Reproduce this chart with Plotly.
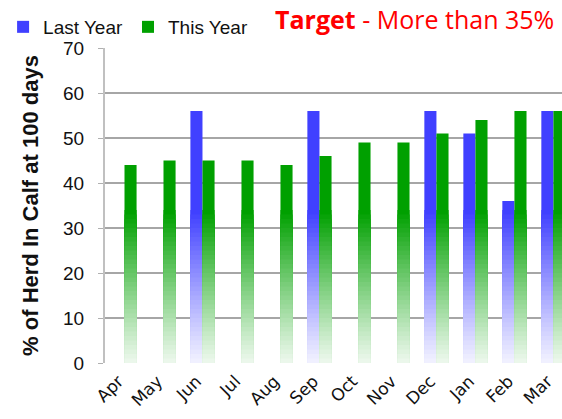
import plotly.graph_objects as go

months = ["Apr", "May", "Jun", "Jul", "Aug", "Sep", "Oct", "Nov", "Dec", "Jan", "Feb", "Mar"]
last_year = [None, None, 56, None, None, 56, None, None, 56, 51, 36, 56]
this_year = [44, 45, 45, 45, 44, 46, 49, 49, 51, 54, 56, 56]

series = [
    ("Last Year", last_year, (64, 64, 255), -0.31),
    ("This Year", this_year, (0, 160, 0), 0.0),
]

BAR_W = 0.31
GRAD_TOP = 34.0
N_SEG = 34
SEG_H = GRAD_TOP / N_SEG


def mix(rgb, f):
    r, g, b = rgb
    return "rgb(%d,%d,%d)" % (round(255 + (r - 255) * f), round(255 + (g - 255) * f), round(255 + (b - 255) * f))


fig = go.Figure()
for name, vals, rgb, off in series:
    # full solid bar (also used for legend)
    fig.add_trace(go.Bar(
        name=name, x=months, y=vals, width=BAR_W, offset=off,
        marker=dict(color=mix(rgb, 1.0), line=dict(width=0)),
        legendgroup=name, showlegend=True, hoverinfo="skip",
    ))
    # overlapping lighter bars, shortest drawn last -> fade to white at the bottom
    for k in range(N_SEG - 1, -1, -1):
        top = (k + 1) * SEG_H
        t = (k + 1) / N_SEG
        f = 0.06 + 0.94 * t ** 1.1
        ys = [min(v, top) if v is not None else None for v in vals]
        fig.add_trace(go.Bar(
            name=name, x=months, y=ys, width=BAR_W, offset=off,
            marker=dict(color=mix(rgb, f), line=dict(width=0)),
            legendgroup=name, showlegend=False, hoverinfo="skip",
        ))

fig.add_annotation(
    text="<b>Target</b> - More than 35%", xref="paper", yref="paper",
    x=0.987, y=1.092, xanchor="right", yanchor="middle",
    showarrow=False, font=dict(family="Open Sans, Lato, sans-serif", size=25, color="#ff0000"),
)

fig.update_layout(
    width=562, height=419,
    margin=dict(l=105, r=0, t=48, b=56),
    paper_bgcolor="white", plot_bgcolor="white",
    barmode="overlay",
    font=dict(family="Liberation Sans, Arial, sans-serif", color="#111111"),
    legend=dict(
        orientation="h", x=-0.223, xanchor="left", y=1.127, yanchor="top",
        font=dict(size=19, family="Liberation Sans, Arial, sans-serif", color="#111111"),
        bgcolor="rgba(0,0,0,0)", traceorder="normal", itemwidth=30,
    ),
    xaxis=dict(
        range=[-0.5, 11.22], type="category", categoryorder="array", categoryarray=months,
        tickangle=-45, tickfont=dict(family="DejaVu Sans, Verdana, sans-serif", size=17, color="#111111"),
        ticklabelshift=-6, ticklabelstandoff=4,
        showgrid=False, showline=False, ticks="", zeroline=False,
    ),
    yaxis=dict(
        range=[0, 70], tickvals=[0, 10, 20, 30, 40, 50, 60, 70],
        tickfont=dict(size=19, color="#111111"), ticklabelstandoff=10,
        ticks="outside", ticklen=5, tickcolor="#b0b0b0", tickwidth=1,
        showgrid=True, gridcolor="#a6a6a6", gridwidth=2,
        showline=True, linecolor="#c0c0c0", linewidth=2,
        zeroline=False,
        title=dict(text="<b>% of Herd In Calf at 100 days</b>", font=dict(size=22, color="#111111"), standoff=18),
    ),
)

fig.write_html(
    "out.html",
    config={"displayModeBar": False},
    post_script="document.body.style.margin='0';document.body.style.overflow='hidden';",
)
